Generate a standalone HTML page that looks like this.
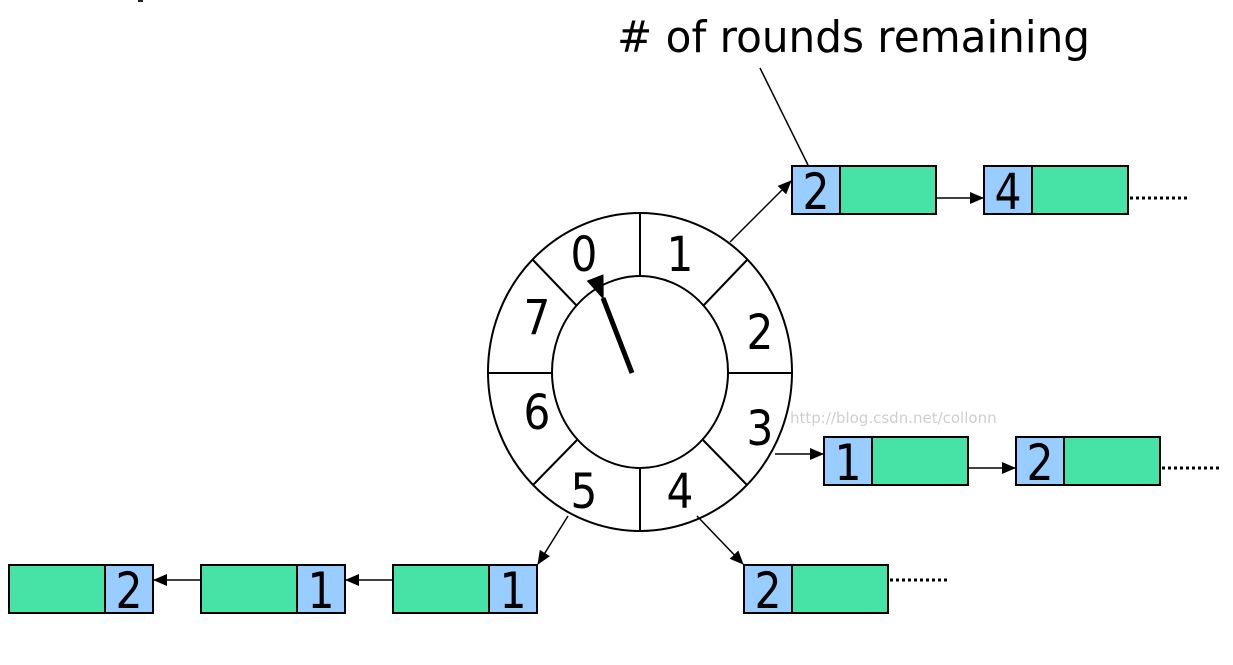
<!DOCTYPE html>
<html><head><meta charset="utf-8"><style>
html,body{margin:0;padding:0;background:#fff;width:1233px;height:665px;overflow:hidden}
svg{display:block}
text{font-family:"DejaVu Sans","Liberation Sans",sans-serif}
</style></head><body>
<svg width="1233" height="665" viewBox="0 0 1233 665">
<defs>
<marker id="ah" markerWidth="14" markerHeight="12" refX="13" refY="6" orient="auto" markerUnits="userSpaceOnUse">
<path d="M0,0 L14,6 L0,12 Z" fill="#000"/></marker>
<marker id="ah2" markerWidth="24" markerHeight="24" refX="2" refY="12" orient="auto" markerUnits="userSpaceOnUse">
<path d="M0,12 L24,3 L24,21 Z" fill="#000"/></marker>
</defs>
<rect x="138" y="0" width="5" height="2" fill="#222"/>
<text x="617" y="52" font-size="44" textLength="473" lengthAdjust="spacingAndGlyphs" fill="#000"># of rounds remaining</text>
<line x1="760" y1="68" x2="808" y2="165" stroke="#000" stroke-width="1.5"/>
<g stroke="#000" stroke-width="2" fill="none">
<ellipse cx="640" cy="372" rx="152" ry="159"/>
<ellipse cx="640" cy="372" rx="88" ry="96" fill="#fff"/>
<line x1="640" y1="213" x2="640" y2="276"/><line x1="640" y1="468" x2="640" y2="531"/>
<line x1="488" y1="373" x2="552" y2="373"/><line x1="728" y1="373" x2="792" y2="373"/>
<line x1="533" y1="260" x2="577" y2="306"/><line x1="747" y1="260" x2="703" y2="306"/>
<line x1="533" y1="485" x2="577" y2="440"/><line x1="747" y1="485" x2="703" y2="440"/>
</g>
<g font-size="48" text-anchor="middle" fill="#000">
<text x="584" y="271" transform="translate(584 0) scale(0.88 1) translate(-584 0)">0</text>
<text x="680" y="271" transform="translate(680 0) scale(0.88 1) translate(-680 0)">1</text>
<text x="760" y="349" transform="translate(760 0) scale(0.88 1) translate(-760 0)">2</text>
<text x="760" y="445" transform="translate(760 0) scale(0.88 1) translate(-760 0)">3</text>
<text x="680" y="508" transform="translate(680 0) scale(0.88 1) translate(-680 0)">4</text>
<text x="584" y="508" transform="translate(584 0) scale(0.88 1) translate(-584 0)">5</text>
<text x="537" y="429" transform="translate(537 0) scale(0.88 1) translate(-537 0)">6</text>
<text x="537" y="334" transform="translate(537 0) scale(0.88 1) translate(-537 0)">7</text>
</g>
<line x1="632" y1="373" x2="603" y2="298" stroke="#000" stroke-width="5" marker-end="url(#ah2)"/>
<g stroke="#000" stroke-width="1.5" marker-end="url(#ah)">
<line x1="730" y1="242" x2="791" y2="181"/>
<line x1="937" y1="198" x2="983" y2="198"/>
<line x1="775" y1="454" x2="823" y2="454"/>
<line x1="969" y1="468" x2="1015" y2="468"/>
<line x1="697" y1="516" x2="743" y2="564"/>
<line x1="568" y1="516" x2="538" y2="564"/>
<line x1="392" y1="580" x2="346" y2="580"/>
<line x1="200" y1="580" x2="154" y2="580"/>
</g>
<g stroke="#000" stroke-width="2">
<rect x="792" y="166" width="48" height="48" fill="#99ccff"/><rect x="840" y="166" width="96" height="48" fill="#46e2a6"/>
<rect x="984" y="166" width="48" height="48" fill="#99ccff"/><rect x="1032" y="166" width="96" height="48" fill="#46e2a6"/>
<rect x="824" y="437" width="48" height="48" fill="#99ccff"/><rect x="872" y="437" width="96" height="48" fill="#46e2a6"/>
<rect x="1016" y="437" width="48" height="48" fill="#99ccff"/><rect x="1064" y="437" width="96" height="48" fill="#46e2a6"/>
<rect x="744" y="565" width="48" height="48" fill="#99ccff"/><rect x="792" y="565" width="96" height="48" fill="#46e2a6"/>
<rect x="9" y="565" width="96" height="48" fill="#46e2a6"/><rect x="105" y="565" width="48" height="48" fill="#99ccff"/>
<rect x="201" y="565" width="96" height="48" fill="#46e2a6"/><rect x="297" y="565" width="48" height="48" fill="#99ccff"/>
<rect x="393" y="565" width="96" height="48" fill="#46e2a6"/><rect x="489" y="565" width="48" height="48" fill="#99ccff"/>
</g>
<g font-size="50" text-anchor="middle" fill="#000">
<text x="816" y="209" transform="translate(816 0) scale(0.85 1) translate(-816 0)">2</text>
<text x="1008" y="209" transform="translate(1008 0) scale(0.85 1) translate(-1008 0)">4</text>
<text x="848" y="480" transform="translate(848 0) scale(0.85 1) translate(-848 0)">1</text>
<text x="1040" y="480" transform="translate(1040 0) scale(0.85 1) translate(-1040 0)">2</text>
<text x="768" y="608" transform="translate(768 0) scale(0.85 1) translate(-768 0)">2</text>
<text x="129" y="608" transform="translate(129 0) scale(0.85 1) translate(-129 0)">2</text>
<text x="321" y="608" transform="translate(321 0) scale(0.85 1) translate(-321 0)">1</text>
<text x="513" y="608" transform="translate(513 0) scale(0.85 1) translate(-513 0)">1</text>
</g>
<g stroke="#000" stroke-width="3" stroke-dasharray="3,3">
<line x1="1130" y1="198" x2="1188" y2="198"/>
<line x1="1162" y1="468" x2="1220" y2="468"/>
<line x1="890" y1="580" x2="948" y2="580"/>
</g>
<text x="790" y="423" font-size="15" fill="#cfcfcf" font-family="Liberation Mono,monospace">http://blog.csdn.net/collonn</text>
</svg>
</body></html>
